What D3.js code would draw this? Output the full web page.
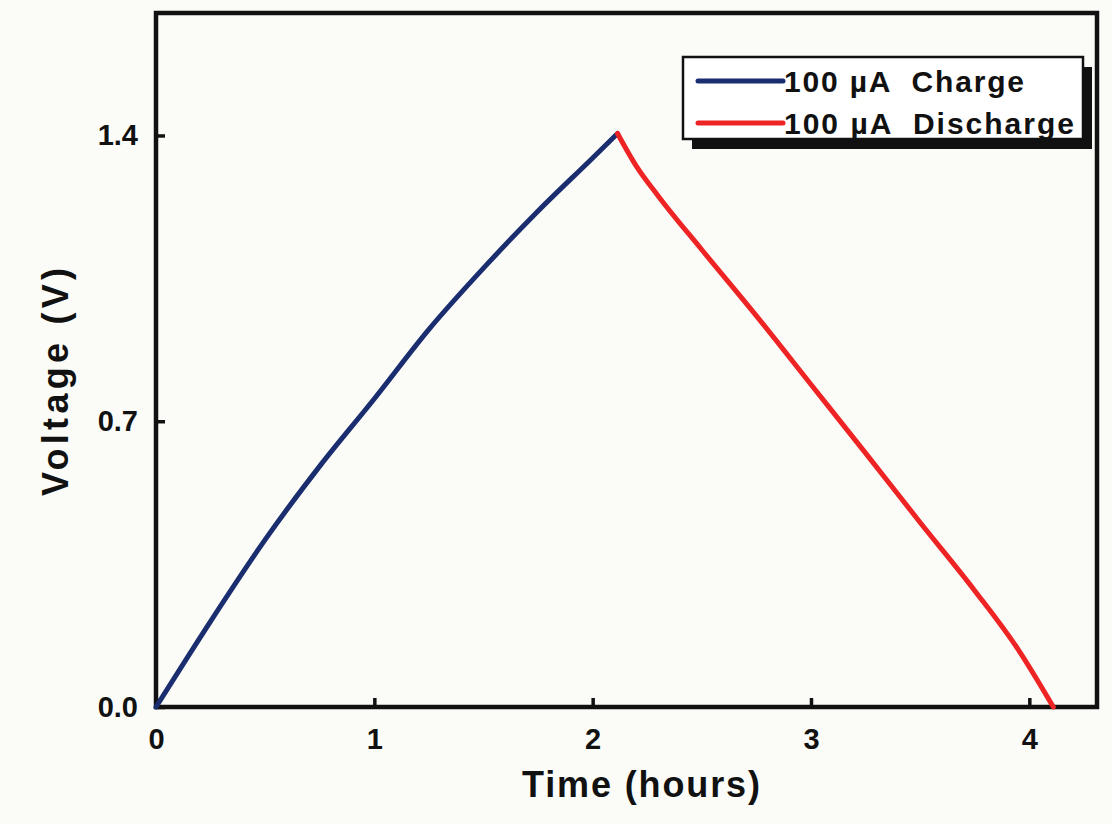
<!DOCTYPE html>
<html>
<head>
<meta charset="utf-8">
<script src="https://cdn.jsdelivr.net/npm/d3@7"></script>
<style>
  body { margin: 0; background: #fbfcf8; }
  svg { display: block; font-family: "Liberation Sans", Arial, sans-serif; font-weight: bold; }
</style>
</head>
<body>
<svg id="chart" width="1112" height="824"></svg>
<script>
// charge curve (hours, volts)
var chargeTime = [0, 0.25, 0.5, 0.75, 1.0, 1.25, 1.5, 1.75, 2.0, 2.114];
var chargeVolt = [0, 0.21, 0.41, 0.59, 0.755, 0.925, 1.075, 1.215, 1.345, 1.405];

// discharge curve
var dischargeTime = [2.114, 2.2, 2.3, 2.5, 2.75, 3.0, 3.25, 3.5, 3.75, 3.95, 4.11];
var dischargeVolt = [1.405, 1.325, 1.252, 1.12, 0.958, 0.79, 0.622, 0.452, 0.285, 0.14, 0.0];

var xTicks = [0, 1, 2, 3, 4];
var yTicks = [0.0, 0.7, 1.4];
var legendLabels = ["100 \u00b5A  Charge", "100 \u00b5A  Discharge"];
var colors = ["#1a2d6e", "#ee2424"];

var svg = d3.select("#chart");
var margin = {top: 13, right: 15, bottom: 117, left: 156},
    width = 1112 - margin.left - margin.right,
    height = 824 - margin.top - margin.bottom;

var g = svg.append("g")
    .attr("transform", "translate(" + margin.left + "," + margin.top + ")");

var x = d3.scaleLinear().domain([0, 4.31]).range([0, width]);
var y = d3.scaleLinear().domain([0, 1.70]).range([height, 0]);

// x axis, ticks pointing inward
var xAxis = g.append("g")
    .attr("transform", "translate(0," + height + ")")
    .call(d3.axisBottom(x).tickValues(xTicks).tickFormat(d3.format("d"))
        .tickSize(-9).tickPadding(21));

var yAxis = g.append("g")
    .call(d3.axisLeft(y).tickValues(yTicks).tickFormat(d3.format(".1f"))
        .tickSize(-9).tickPadding(18));

[xAxis, yAxis].forEach(function(a) {
    a.select(".domain").remove();
    a.selectAll("line").attr("stroke", "#111").attr("stroke-width", 3.5);
    a.selectAll("text").attr("fill", "#111").attr("font-size", 29).attr("font-weight", "bold");
});

// frame
g.append("rect")
    .attr("width", width)
    .attr("height", height)
    .attr("fill", "none")
    .attr("stroke", "#111")
    .attr("stroke-width", 4.5);

var line = d3.line()
    .x(function(d) { return x(d[0]); })
    .y(function(d) { return y(d[1]); })
    .curve(d3.curveMonotoneX);

var series = [
    d3.zip(chargeTime, chargeVolt),
    d3.zip(dischargeTime, dischargeVolt)
];

g.selectAll(".curve")
    .data(series)
    .enter().append("path")
    .attr("class", "curve")
    .attr("d", line)
    .attr("fill", "none")
    .attr("stroke", function(d, i) { return colors[i]; })
    .attr("stroke-width", 5)
    .attr("stroke-linecap", "round")
    .attr("stroke-linejoin", "round");

// axis titles
svg.append("text")
    .attr("x", 641)
    .attr("y", 797)
    .attr("text-anchor", "middle")
    .attr("fill", "#111")
    .style("font-size", "36px")
    .attr("textLength", 238)
    .attr("lengthAdjust", "spacing")
    .text("Time (hours)");

svg.append("text")
    .attr("transform", "translate(68,382) rotate(-90)")
    .attr("text-anchor", "middle")
    .attr("fill", "#111")
    .style("font-size", "36px")
    .attr("textLength", 228)
    .attr("lengthAdjust", "spacing")
    .text("Voltage (V)");

// legend with drop shadow
var legend = svg.append("g").attr("transform", "translate(683,57)");
legend.append("rect")
    .attr("x", 9).attr("y", 10)
    .attr("width", 400).attr("height", 82)
    .attr("fill", "#111");
legend.append("rect")
    .attr("width", 400).attr("height", 82)
    .attr("fill", "#fff")
    .attr("stroke", "#111")
    .attr("stroke-width", 2.5);

var item = legend.selectAll(".item")
    .data(legendLabels)
    .enter().append("g")
    .attr("class", "item")
    .attr("transform", function(d, i) { return "translate(0," + (24 + i * 42) + ")"; });

item.append("line")
    .attr("x1", 15).attr("x2", 100)
    .attr("stroke", function(d, i) { return colors[i]; })
    .attr("stroke-width", 5)
    .attr("stroke-linecap", "round");

item.append("text")
    .attr("x", 101)
    .attr("dy", "0.36em")
    .attr("fill", "#111")
    .style("font-size", "30px")
    .style("white-space", "pre")
    .attr("textLength", function(d, i) { return i === 0 ? 240 : 290; })
    .attr("lengthAdjust", "spacing")
    .text(function(d) { return d; });
</script>
</body>
</html>
